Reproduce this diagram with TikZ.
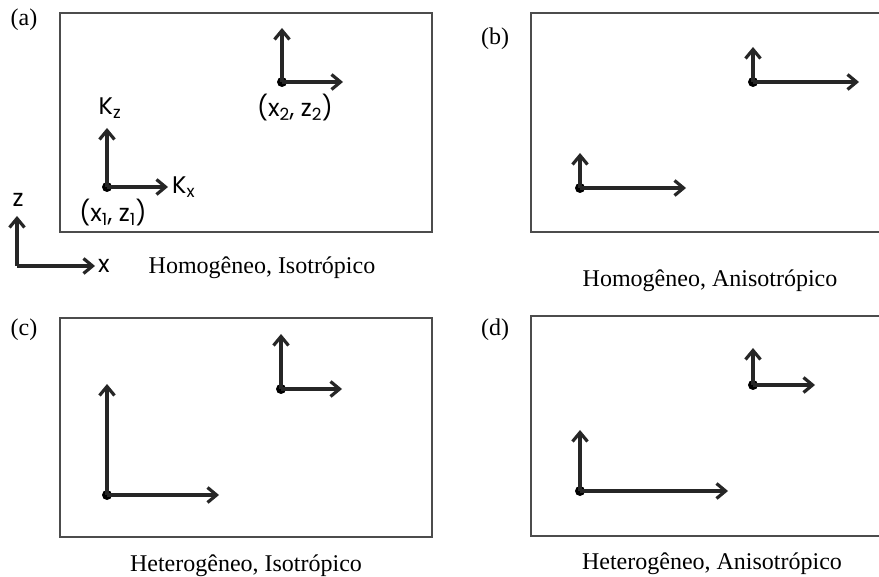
\documentclass[tikz,border=0pt]{standalone}
\usepackage{fontspec}
\setmainfont{Liberation Serif}
\newfontfamily\lblfont{Poppins}
\usetikzlibrary{arrows.meta,positioning}

\begin{document}
\begin{tikzpicture}[x=1pt,y=-1pt,
    frame/.style={draw=black!70,line width=2.4pt},
    vec/.style={-{Straight Barb[length=9pt,width=15pt]},line width=3.2pt,black!85},
    pt/.style={circle,fill=black,inner sep=0pt,minimum size=10pt},
    tag/.style={font=\fontsize{24}{27}\selectfont},
    caption/.style={font=\fontsize{24}{28}\selectfont},
    sym/.style={font=\lblfont\fontsize{24}{27}\selectfont,inner sep=1pt}
  ]
    \clip (0,0) rectangle (879,577);

    % frames
    \draw[frame] (60,13) rectangle (432,232);
    \draw[frame] (890,13) -- (531,13) -- (531,232) -- (890,232);
    \draw[frame] (60,318) rectangle (432,537);
    \draw[frame] (890,316) -- (531,316) -- (531,536) -- (890,536);

    \node[tag] (ta) at (24,20) {(a)};
    \node[tag] (tb) at (495,39) {(b)};
    \node[tag] (tc) at (24,330) {(c)};
    \node[tag] (td) at (495,330) {(d)};

    % (a) homogeneo, isotropico
    \node[pt] (a1) at (107,187) {};
    \coordinate (a1z) at (107,128);
    \coordinate (a1x) at (168,187);
    \draw[vec] (a1.center) -- (a1z);
    \draw[vec] (a1.center) -- (a1x);
    \node[sym] (kz) at (110,108) {K\textsubscript{z}};
    \node[sym,right=3pt of a1x] (kx) {K\textsubscript{x}};
    \node[sym] (p1) at (113,213) {(x\textsubscript{1}, z\textsubscript{1})};
    \node[pt] (a2) at (282,82) {};
    \coordinate (a2z) at (282,28);
    \coordinate (a2x) at (343,82);
    \draw[vec] (a2.center) -- (a2z);
    \draw[vec] (a2.center) -- (a2x);
    \node[sym] (p2) at (295,108) {(x\textsubscript{2}, z\textsubscript{2})};

    % eixos
    \coordinate (o) at (17,266);
    \coordinate (oz) at (17,216);
    \coordinate (ox) at (95,266);
    \draw[vec] (o) -- (oz);
    \draw[vec] (o) -- (ox);
    \node[sym] (zl) at (18,200) {z};
    \node[sym,right=2pt of ox] (xl) {x};
    \node[caption] (ca) at (262,268) {Homogêneo, Isotrópico};

    % (b) homogeneo, anisotropico
    \node[pt] (b1) at (580,188) {};
    \coordinate (b1z) at (580,153);
    \coordinate (b1x) at (686,188);
    \draw[vec] (b1.center) -- (b1z);
    \draw[vec] (b1.center) -- (b1x);
    \node[pt] (b2) at (753,82) {};
    \coordinate (b2z) at (753,47);
    \coordinate (b2x) at (859,82);
    \draw[vec] (b2.center) -- (b2z);
    \draw[vec] (b2.center) -- (b2x);
    \node[caption] (cb) at (710,281) {Homogêneo, Anisotrópico};

    % (c) heterogeneo, isotropico
    \node[pt] (c1) at (107,495) {};
    \coordinate (c1z) at (107,384);
    \coordinate (c1x) at (219,495);
    \draw[vec] (c1.center) -- (c1z);
    \draw[vec] (c1.center) -- (c1x);
    \node[pt] (c2) at (281,389) {};
    \coordinate (c2z) at (281,334);
    \coordinate (c2x) at (342,389);
    \draw[vec] (c2.center) -- (c2z);
    \draw[vec] (c2.center) -- (c2x);
    \node[caption] (cc) at (246,566) {Heterogêneo, Isotrópico};

    % (d) heterogeneo, anisotropico
    \node[pt] (d1) at (580,491) {};
    \coordinate (d1z) at (580,430);
    \coordinate (d1x) at (728,491);
    \draw[vec] (d1.center) -- (d1z);
    \draw[vec] (d1.center) -- (d1x);
    \node[pt] (d2) at (753,385) {};
    \coordinate (d2z) at (753,348);
    \coordinate (d2x) at (815,385);
    \draw[vec] (d2.center) -- (d2z);
    \draw[vec] (d2.center) -- (d2x);
    \node[caption] (cd) at (712,564) {Heterogêneo, Anisotrópico};
  \end{tikzpicture}
\end{document}
